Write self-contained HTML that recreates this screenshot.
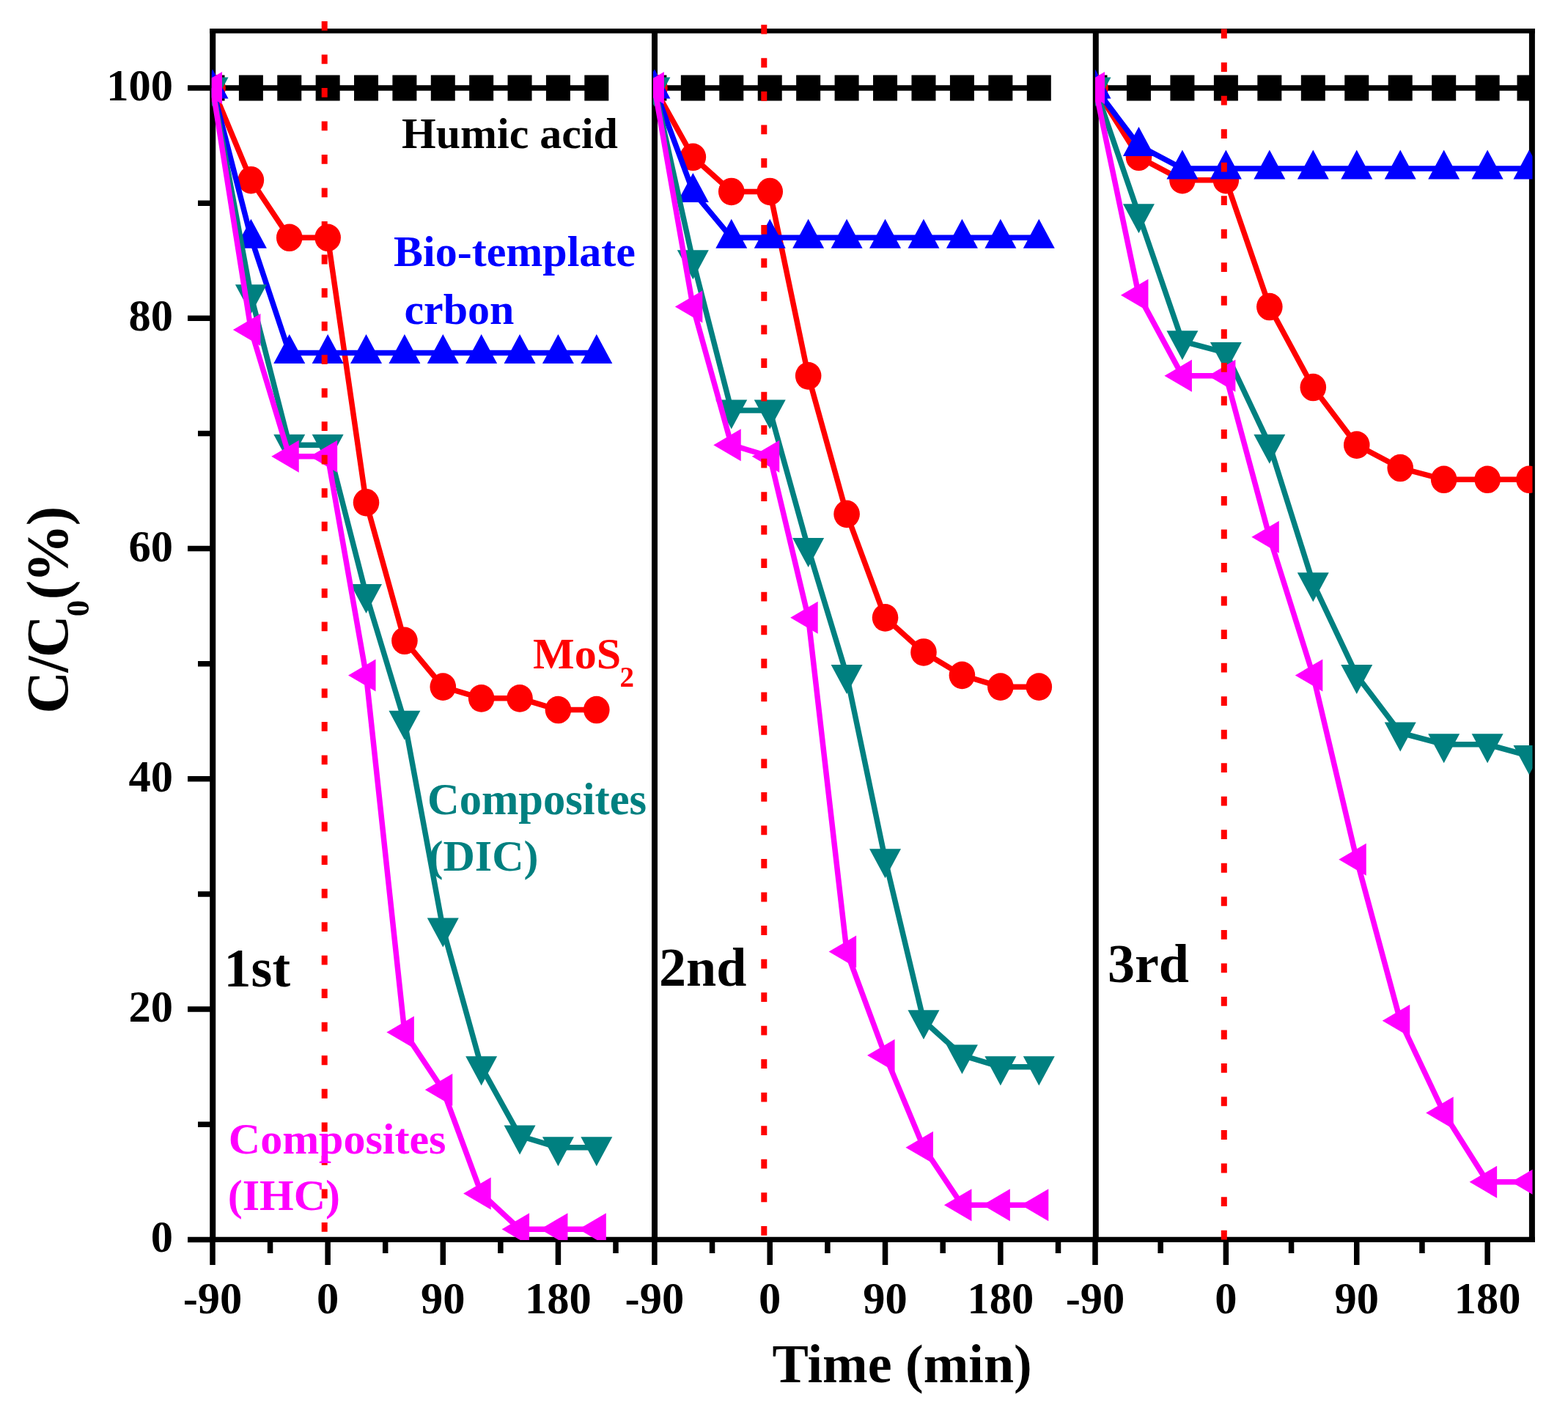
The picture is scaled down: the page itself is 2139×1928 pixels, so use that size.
<!DOCTYPE html>
<html><head><meta charset="utf-8"><title>C/C0 vs Time</title>
<style>
html,body{margin:0;padding:0;background:#fff;}
svg{display:block;}
text{font-family:"Liberation Serif","Times New Roman",serif;font-weight:bold;}
</style></head><body>
<svg width="2139" height="1928" viewBox="0 0 2139 1928">
<rect width="2139" height="1928" fill="#fff"/>
<defs>
<clipPath id="c0"><rect x="288.8" y="42.3" width="604.2" height="1649.7"/></clipPath>
<clipPath id="c1"><rect x="891" y="42.3" width="603.8" height="1649.7"/></clipPath>
<clipPath id="c2"><rect x="1494" y="42.3" width="596.5" height="1649.7"/></clipPath>
</defs>
<path d="M286,42.3H2094" stroke="#000" stroke-width="6.5" fill="none"/>
<path d="M286,1691.4H2094" stroke="#000" stroke-width="7.3" fill="none"/>
<path d="M290.2,39V1695 M893,39V1695 M1494.8,39V1695 M2089.9,39V1695" stroke="#000" stroke-width="8" fill="none"/>
<path d="M256,1691.4H290 M270,1534.26H290 M256,1377.12H290 M270,1219.98H290 M256,1062.84H290 M270,905.7H290 M256,748.56H290 M270,591.42H290 M256,434.28H290 M270,277.14H290 M256,120H290 M290,1691.4V1726 M368.57,1691.4V1710 M447.14,1691.4V1726 M525.71,1691.4V1710 M604.28,1691.4V1726 M682.85,1691.4V1710 M761.42,1691.4V1726 M839.99,1691.4V1710 M892.9,1691.4V1726 M971.56,1691.4V1710 M1050.22,1691.4V1726 M1128.88,1691.4V1710 M1207.54,1691.4V1726 M1286.2,1691.4V1710 M1364.86,1691.4V1726 M1443.52,1691.4V1710 M1494,1691.4V1726 M1583.19,1691.4V1710 M1672.38,1691.4V1726 M1761.57,1691.4V1710 M1850.76,1691.4V1726 M1939.95,1691.4V1710 M2029.14,1691.4V1726" stroke="#000" stroke-width="7.5" fill="none"/>
<g clip-path="url(#c0)">
<polyline fill="none" stroke="#000000" stroke-width="7.5" stroke-linejoin="miter" points="290,120 342.38,120 394.76,120 447.14,120 499.52,120 551.9,120 604.28,120 656.66,120 709.04,120 761.42,120 813.8,120"/>
<rect x="273.5" y="102.5" width="33" height="35" fill="#000000"/>
<rect x="325.88" y="102.5" width="33" height="35" fill="#000000"/>
<rect x="378.26" y="102.5" width="33" height="35" fill="#000000"/>
<rect x="430.64" y="102.5" width="33" height="35" fill="#000000"/>
<rect x="483.02" y="102.5" width="33" height="35" fill="#000000"/>
<rect x="535.4" y="102.5" width="33" height="35" fill="#000000"/>
<rect x="587.78" y="102.5" width="33" height="35" fill="#000000"/>
<rect x="640.16" y="102.5" width="33" height="35" fill="#000000"/>
<rect x="692.54" y="102.5" width="33" height="35" fill="#000000"/>
<rect x="744.92" y="102.5" width="33" height="35" fill="#000000"/>
<rect x="797.3" y="102.5" width="33" height="35" fill="#000000"/>
<polyline fill="none" stroke="#ff0000" stroke-width="7.5" stroke-linejoin="miter" points="290,120 342.38,245.71 394.76,324.28 447.14,324.28 499.52,685.7 551.9,874.27 604.28,937.13 656.66,952.84 709.04,952.84 761.42,968.56 813.8,968.56"/>
<ellipse cx="290" cy="120" rx="17.8" ry="18.8" fill="#ff0000"/>
<ellipse cx="342.38" cy="245.71" rx="17.8" ry="18.8" fill="#ff0000"/>
<ellipse cx="394.76" cy="324.28" rx="17.8" ry="18.8" fill="#ff0000"/>
<ellipse cx="447.14" cy="324.28" rx="17.8" ry="18.8" fill="#ff0000"/>
<ellipse cx="499.52" cy="685.7" rx="17.8" ry="18.8" fill="#ff0000"/>
<ellipse cx="551.9" cy="874.27" rx="17.8" ry="18.8" fill="#ff0000"/>
<ellipse cx="604.28" cy="937.13" rx="17.8" ry="18.8" fill="#ff0000"/>
<ellipse cx="656.66" cy="952.84" rx="17.8" ry="18.8" fill="#ff0000"/>
<ellipse cx="709.04" cy="952.84" rx="17.8" ry="18.8" fill="#ff0000"/>
<ellipse cx="761.42" cy="968.56" rx="17.8" ry="18.8" fill="#ff0000"/>
<ellipse cx="813.8" cy="968.56" rx="17.8" ry="18.8" fill="#ff0000"/>
<polyline fill="none" stroke="#0000ff" stroke-width="7.5" stroke-linejoin="miter" points="290,120 342.38,324.28 394.76,481.42 447.14,481.42 499.52,481.42 551.9,481.42 604.28,481.42 656.66,481.42 709.04,481.42 761.42,481.42 813.8,481.42"/>
<polygon points="290,94.5 311.5,134.5 268.5,134.5" fill="#0000ff"/>
<polygon points="342.38,298.78 363.88,338.78 320.88,338.78" fill="#0000ff"/>
<polygon points="394.76,455.92 416.26,495.92 373.26,495.92" fill="#0000ff"/>
<polygon points="447.14,455.92 468.64,495.92 425.64,495.92" fill="#0000ff"/>
<polygon points="499.52,455.92 521.02,495.92 478.02,495.92" fill="#0000ff"/>
<polygon points="551.9,455.92 573.4,495.92 530.4,495.92" fill="#0000ff"/>
<polygon points="604.28,455.92 625.78,495.92 582.78,495.92" fill="#0000ff"/>
<polygon points="656.66,455.92 678.16,495.92 635.16,495.92" fill="#0000ff"/>
<polygon points="709.04,455.92 730.54,495.92 687.54,495.92" fill="#0000ff"/>
<polygon points="761.42,455.92 782.92,495.92 739.92,495.92" fill="#0000ff"/>
<polygon points="813.8,455.92 835.3,495.92 792.3,495.92" fill="#0000ff"/>
<polyline fill="none" stroke="#008080" stroke-width="7.5" stroke-linejoin="miter" points="290,120 342.38,402.85 394.76,607.13 447.14,607.13 499.52,811.42 551.9,984.27 604.28,1267.12 656.66,1455.69 709.04,1549.97 761.42,1565.69 813.8,1565.69"/>
<polygon points="290,145.5 311.5,105.5 268.5,105.5" fill="#008080"/>
<polygon points="342.38,428.35 363.88,388.35 320.88,388.35" fill="#008080"/>
<polygon points="394.76,632.63 416.26,592.63 373.26,592.63" fill="#008080"/>
<polygon points="447.14,632.63 468.64,592.63 425.64,592.63" fill="#008080"/>
<polygon points="499.52,836.92 521.02,796.92 478.02,796.92" fill="#008080"/>
<polygon points="551.9,1009.77 573.4,969.77 530.4,969.77" fill="#008080"/>
<polygon points="604.28,1292.62 625.78,1252.62 582.78,1252.62" fill="#008080"/>
<polygon points="656.66,1481.19 678.16,1441.19 635.16,1441.19" fill="#008080"/>
<polygon points="709.04,1575.47 730.54,1535.47 687.54,1535.47" fill="#008080"/>
<polygon points="761.42,1591.19 782.92,1551.19 739.92,1551.19" fill="#008080"/>
<polygon points="813.8,1591.19 835.3,1551.19 792.3,1551.19" fill="#008080"/>
<polyline fill="none" stroke="#ff00ff" stroke-width="7.5" stroke-linejoin="miter" points="290,120 342.38,449.99 394.76,622.85 447.14,622.85 499.52,921.41 551.9,1408.55 604.28,1487.12 656.66,1628.54 709.04,1677.26 761.42,1677.26 813.8,1677.26"/>
<polygon points="265.5,120 303,98 303,142" fill="#ff00ff"/>
<polygon points="317.88,449.99 355.38,427.99 355.38,471.99" fill="#ff00ff"/>
<polygon points="370.26,622.85 407.76,600.85 407.76,644.85" fill="#ff00ff"/>
<polygon points="422.64,622.85 460.14,600.85 460.14,644.85" fill="#ff00ff"/>
<polygon points="475.02,921.41 512.52,899.41 512.52,943.41" fill="#ff00ff"/>
<polygon points="527.4,1408.55 564.9,1386.55 564.9,1430.55" fill="#ff00ff"/>
<polygon points="579.78,1487.12 617.28,1465.12 617.28,1509.12" fill="#ff00ff"/>
<polygon points="632.16,1628.54 669.66,1606.54 669.66,1650.54" fill="#ff00ff"/>
<polygon points="684.54,1677.26 722.04,1655.26 722.04,1699.26" fill="#ff00ff"/>
<polygon points="736.92,1677.26 774.42,1655.26 774.42,1699.26" fill="#ff00ff"/>
<polygon points="789.3,1677.26 826.8,1655.26 826.8,1699.26" fill="#ff00ff"/>
</g>
<g clip-path="url(#c1)">
<polyline fill="none" stroke="#000000" stroke-width="7.5" stroke-linejoin="miter" points="892.9,120 945.34,120 997.78,120 1050.22,120 1102.66,120 1155.1,120 1207.54,120 1259.98,120 1312.42,120 1364.86,120 1417.3,120"/>
<rect x="876.4" y="102.5" width="33" height="35" fill="#000000"/>
<rect x="928.84" y="102.5" width="33" height="35" fill="#000000"/>
<rect x="981.28" y="102.5" width="33" height="35" fill="#000000"/>
<rect x="1033.72" y="102.5" width="33" height="35" fill="#000000"/>
<rect x="1086.16" y="102.5" width="33" height="35" fill="#000000"/>
<rect x="1138.6" y="102.5" width="33" height="35" fill="#000000"/>
<rect x="1191.04" y="102.5" width="33" height="35" fill="#000000"/>
<rect x="1243.48" y="102.5" width="33" height="35" fill="#000000"/>
<rect x="1295.92" y="102.5" width="33" height="35" fill="#000000"/>
<rect x="1348.36" y="102.5" width="33" height="35" fill="#000000"/>
<rect x="1400.8" y="102.5" width="33" height="35" fill="#000000"/>
<polyline fill="none" stroke="#ff0000" stroke-width="7.5" stroke-linejoin="miter" points="892.9,120 945.34,214.28 997.78,261.43 1050.22,261.43 1102.66,512.85 1155.1,701.42 1207.54,842.84 1259.98,889.99 1312.42,921.41 1364.86,937.13 1417.3,937.13"/>
<ellipse cx="892.9" cy="120" rx="17.8" ry="18.8" fill="#ff0000"/>
<ellipse cx="945.34" cy="214.28" rx="17.8" ry="18.8" fill="#ff0000"/>
<ellipse cx="997.78" cy="261.43" rx="17.8" ry="18.8" fill="#ff0000"/>
<ellipse cx="1050.22" cy="261.43" rx="17.8" ry="18.8" fill="#ff0000"/>
<ellipse cx="1102.66" cy="512.85" rx="17.8" ry="18.8" fill="#ff0000"/>
<ellipse cx="1155.1" cy="701.42" rx="17.8" ry="18.8" fill="#ff0000"/>
<ellipse cx="1207.54" cy="842.84" rx="17.8" ry="18.8" fill="#ff0000"/>
<ellipse cx="1259.98" cy="889.99" rx="17.8" ry="18.8" fill="#ff0000"/>
<ellipse cx="1312.42" cy="921.41" rx="17.8" ry="18.8" fill="#ff0000"/>
<ellipse cx="1364.86" cy="937.13" rx="17.8" ry="18.8" fill="#ff0000"/>
<ellipse cx="1417.3" cy="937.13" rx="17.8" ry="18.8" fill="#ff0000"/>
<polyline fill="none" stroke="#0000ff" stroke-width="7.5" stroke-linejoin="miter" points="892.9,120 945.34,261.43 997.78,324.28 1050.22,324.28 1102.66,324.28 1155.1,324.28 1207.54,324.28 1259.98,324.28 1312.42,324.28 1364.86,324.28 1417.3,324.28"/>
<polygon points="892.9,94.5 914.4,134.5 871.4,134.5" fill="#0000ff"/>
<polygon points="945.34,235.93 966.84,275.93 923.84,275.93" fill="#0000ff"/>
<polygon points="997.78,298.78 1019.28,338.78 976.28,338.78" fill="#0000ff"/>
<polygon points="1050.22,298.78 1071.72,338.78 1028.72,338.78" fill="#0000ff"/>
<polygon points="1102.66,298.78 1124.16,338.78 1081.16,338.78" fill="#0000ff"/>
<polygon points="1155.1,298.78 1176.6,338.78 1133.6,338.78" fill="#0000ff"/>
<polygon points="1207.54,298.78 1229.04,338.78 1186.04,338.78" fill="#0000ff"/>
<polygon points="1259.98,298.78 1281.48,338.78 1238.48,338.78" fill="#0000ff"/>
<polygon points="1312.42,298.78 1333.92,338.78 1290.92,338.78" fill="#0000ff"/>
<polygon points="1364.86,298.78 1386.36,338.78 1343.36,338.78" fill="#0000ff"/>
<polygon points="1417.3,298.78 1438.8,338.78 1395.8,338.78" fill="#0000ff"/>
<polyline fill="none" stroke="#008080" stroke-width="7.5" stroke-linejoin="miter" points="892.9,120 945.34,355.71 997.78,559.99 1050.22,559.99 1102.66,748.56 1155.1,921.41 1207.54,1172.84 1259.98,1392.83 1312.42,1439.98 1364.86,1455.69 1417.3,1455.69"/>
<polygon points="892.9,145.5 914.4,105.5 871.4,105.5" fill="#008080"/>
<polygon points="945.34,381.21 966.84,341.21 923.84,341.21" fill="#008080"/>
<polygon points="997.78,585.49 1019.28,545.49 976.28,545.49" fill="#008080"/>
<polygon points="1050.22,585.49 1071.72,545.49 1028.72,545.49" fill="#008080"/>
<polygon points="1102.66,774.06 1124.16,734.06 1081.16,734.06" fill="#008080"/>
<polygon points="1155.1,946.91 1176.6,906.91 1133.6,906.91" fill="#008080"/>
<polygon points="1207.54,1198.34 1229.04,1158.34 1186.04,1158.34" fill="#008080"/>
<polygon points="1259.98,1418.33 1281.48,1378.33 1238.48,1378.33" fill="#008080"/>
<polygon points="1312.42,1465.48 1333.92,1425.48 1290.92,1425.48" fill="#008080"/>
<polygon points="1364.86,1481.19 1386.36,1441.19 1343.36,1441.19" fill="#008080"/>
<polygon points="1417.3,1481.19 1438.8,1441.19 1395.8,1441.19" fill="#008080"/>
<polyline fill="none" stroke="#ff00ff" stroke-width="7.5" stroke-linejoin="miter" points="892.9,120 945.34,418.57 997.78,607.13 1050.22,622.85 1102.66,842.84 1155.1,1298.55 1207.54,1439.98 1259.98,1565.69 1312.42,1644.26 1364.86,1644.26 1417.3,1644.26"/>
<polygon points="868.4,120 905.9,98 905.9,142" fill="#ff00ff"/>
<polygon points="920.84,418.57 958.34,396.57 958.34,440.57" fill="#ff00ff"/>
<polygon points="973.28,607.13 1010.78,585.13 1010.78,629.13" fill="#ff00ff"/>
<polygon points="1025.72,622.85 1063.22,600.85 1063.22,644.85" fill="#ff00ff"/>
<polygon points="1078.16,842.84 1115.66,820.84 1115.66,864.84" fill="#ff00ff"/>
<polygon points="1130.6,1298.55 1168.1,1276.55 1168.1,1320.55" fill="#ff00ff"/>
<polygon points="1183.04,1439.98 1220.54,1417.98 1220.54,1461.98" fill="#ff00ff"/>
<polygon points="1235.48,1565.69 1272.98,1543.69 1272.98,1587.69" fill="#ff00ff"/>
<polygon points="1287.92,1644.26 1325.42,1622.26 1325.42,1666.26" fill="#ff00ff"/>
<polygon points="1340.36,1644.26 1377.86,1622.26 1377.86,1666.26" fill="#ff00ff"/>
<polygon points="1392.8,1644.26 1430.3,1622.26 1430.3,1666.26" fill="#ff00ff"/>
</g>
<g clip-path="url(#c2)">
<polyline fill="none" stroke="#000000" stroke-width="7.5" stroke-linejoin="miter" points="1494,120 1553.46,120 1612.92,120 1672.38,120 1731.84,120 1791.3,120 1850.76,120 1910.22,120 1969.68,120 2029.14,120 2086.02,120"/>
<rect x="1477.5" y="102.5" width="33" height="35" fill="#000000"/>
<rect x="1536.96" y="102.5" width="33" height="35" fill="#000000"/>
<rect x="1596.42" y="102.5" width="33" height="35" fill="#000000"/>
<rect x="1655.88" y="102.5" width="33" height="35" fill="#000000"/>
<rect x="1715.34" y="102.5" width="33" height="35" fill="#000000"/>
<rect x="1774.8" y="102.5" width="33" height="35" fill="#000000"/>
<rect x="1834.26" y="102.5" width="33" height="35" fill="#000000"/>
<rect x="1893.72" y="102.5" width="33" height="35" fill="#000000"/>
<rect x="1953.18" y="102.5" width="33" height="35" fill="#000000"/>
<rect x="2012.64" y="102.5" width="33" height="35" fill="#000000"/>
<rect x="2069.52" y="102.5" width="33" height="35" fill="#000000"/>
<polyline fill="none" stroke="#ff0000" stroke-width="7.5" stroke-linejoin="miter" points="1494,120 1553.46,214.28 1612.92,245.71 1672.38,245.71 1731.84,418.57 1791.3,528.56 1850.76,607.13 1910.22,638.56 1969.68,654.28 2029.14,654.28 2086.02,654.28"/>
<ellipse cx="1494" cy="120" rx="17.8" ry="18.8" fill="#ff0000"/>
<ellipse cx="1553.46" cy="214.28" rx="17.8" ry="18.8" fill="#ff0000"/>
<ellipse cx="1612.92" cy="245.71" rx="17.8" ry="18.8" fill="#ff0000"/>
<ellipse cx="1672.38" cy="245.71" rx="17.8" ry="18.8" fill="#ff0000"/>
<ellipse cx="1731.84" cy="418.57" rx="17.8" ry="18.8" fill="#ff0000"/>
<ellipse cx="1791.3" cy="528.56" rx="17.8" ry="18.8" fill="#ff0000"/>
<ellipse cx="1850.76" cy="607.13" rx="17.8" ry="18.8" fill="#ff0000"/>
<ellipse cx="1910.22" cy="638.56" rx="17.8" ry="18.8" fill="#ff0000"/>
<ellipse cx="1969.68" cy="654.28" rx="17.8" ry="18.8" fill="#ff0000"/>
<ellipse cx="2029.14" cy="654.28" rx="17.8" ry="18.8" fill="#ff0000"/>
<ellipse cx="2086.02" cy="654.28" rx="17.8" ry="18.8" fill="#ff0000"/>
<polyline fill="none" stroke="#0000ff" stroke-width="7.5" stroke-linejoin="miter" points="1494,120 1553.46,198.57 1612.92,230 1672.38,230 1731.84,230 1791.3,230 1850.76,230 1910.22,230 1969.68,230 2029.14,230 2086.02,230"/>
<polygon points="1494,94.5 1515.5,134.5 1472.5,134.5" fill="#0000ff"/>
<polygon points="1553.46,173.07 1574.96,213.07 1531.96,213.07" fill="#0000ff"/>
<polygon points="1612.92,204.5 1634.42,244.5 1591.42,244.5" fill="#0000ff"/>
<polygon points="1672.38,204.5 1693.88,244.5 1650.88,244.5" fill="#0000ff"/>
<polygon points="1731.84,204.5 1753.34,244.5 1710.34,244.5" fill="#0000ff"/>
<polygon points="1791.3,204.5 1812.8,244.5 1769.8,244.5" fill="#0000ff"/>
<polygon points="1850.76,204.5 1872.26,244.5 1829.26,244.5" fill="#0000ff"/>
<polygon points="1910.22,204.5 1931.72,244.5 1888.72,244.5" fill="#0000ff"/>
<polygon points="1969.68,204.5 1991.18,244.5 1948.18,244.5" fill="#0000ff"/>
<polygon points="2029.14,204.5 2050.64,244.5 2007.64,244.5" fill="#0000ff"/>
<polygon points="2086.02,204.5 2107.52,244.5 2064.52,244.5" fill="#0000ff"/>
<polyline fill="none" stroke="#008080" stroke-width="7.5" stroke-linejoin="miter" points="1494,120 1553.46,292.85 1612.92,465.71 1672.38,481.42 1731.84,607.13 1791.3,795.7 1850.76,921.41 1910.22,999.98 1969.68,1015.7 2029.14,1015.7 2086.02,1031.41"/>
<polygon points="1494,145.5 1515.5,105.5 1472.5,105.5" fill="#008080"/>
<polygon points="1553.46,318.35 1574.96,278.35 1531.96,278.35" fill="#008080"/>
<polygon points="1612.92,491.21 1634.42,451.21 1591.42,451.21" fill="#008080"/>
<polygon points="1672.38,506.92 1693.88,466.92 1650.88,466.92" fill="#008080"/>
<polygon points="1731.84,632.63 1753.34,592.63 1710.34,592.63" fill="#008080"/>
<polygon points="1791.3,821.2 1812.8,781.2 1769.8,781.2" fill="#008080"/>
<polygon points="1850.76,946.91 1872.26,906.91 1829.26,906.91" fill="#008080"/>
<polygon points="1910.22,1025.48 1931.72,985.48 1888.72,985.48" fill="#008080"/>
<polygon points="1969.68,1041.2 1991.18,1001.2 1948.18,1001.2" fill="#008080"/>
<polygon points="2029.14,1041.2 2050.64,1001.2 2007.64,1001.2" fill="#008080"/>
<polygon points="2086.02,1056.91 2107.52,1016.91 2064.52,1016.91" fill="#008080"/>
<polyline fill="none" stroke="#ff00ff" stroke-width="7.5" stroke-linejoin="miter" points="1494,120 1553.46,402.85 1612.92,512.85 1672.38,512.85 1731.84,732.85 1791.3,921.41 1850.76,1172.84 1910.22,1392.83 1969.68,1518.55 2029.14,1612.83 2086.02,1612.83"/>
<polygon points="1469.5,120 1507,98 1507,142" fill="#ff00ff"/>
<polygon points="1528.96,402.85 1566.46,380.85 1566.46,424.85" fill="#ff00ff"/>
<polygon points="1588.42,512.85 1625.92,490.85 1625.92,534.85" fill="#ff00ff"/>
<polygon points="1647.88,512.85 1685.38,490.85 1685.38,534.85" fill="#ff00ff"/>
<polygon points="1707.34,732.85 1744.84,710.85 1744.84,754.85" fill="#ff00ff"/>
<polygon points="1766.8,921.41 1804.3,899.41 1804.3,943.41" fill="#ff00ff"/>
<polygon points="1826.26,1172.84 1863.76,1150.84 1863.76,1194.84" fill="#ff00ff"/>
<polygon points="1885.72,1392.83 1923.22,1370.83 1923.22,1414.83" fill="#ff00ff"/>
<polygon points="1945.18,1518.55 1982.68,1496.55 1982.68,1540.55" fill="#ff00ff"/>
<polygon points="2004.64,1612.83 2042.14,1590.83 2042.14,1634.83" fill="#ff00ff"/>
<polygon points="2061.52,1612.83 2099.02,1590.83 2099.02,1634.83" fill="#ff00ff"/>
</g>
<line x1="442.7" y1="28.9" x2="442.7" y2="1691.4" stroke="#ff0000" stroke-width="8" stroke-dasharray="12.8 32.73"/>
<line x1="1042.3" y1="33.8" x2="1042.3" y2="1691.4" stroke="#ff0000" stroke-width="8" stroke-dasharray="12.8 32.73"/>
<line x1="1669.8" y1="39.6" x2="1669.8" y2="1691.4" stroke="#ff0000" stroke-width="8" stroke-dasharray="12.8 32.73"/>
<text x="236" y="1708.4" font-size="60.5" text-anchor="end">0</text>
<text x="236" y="1394.12" font-size="60.5" text-anchor="end">20</text>
<text x="236" y="1079.84" font-size="60.5" text-anchor="end">40</text>
<text x="236" y="765.56" font-size="60.5" text-anchor="end">60</text>
<text x="236" y="451.28" font-size="60.5" text-anchor="end">80</text>
<text x="236" y="137" font-size="60.5" text-anchor="end">100</text>
<text x="290" y="1792" font-size="60.5" text-anchor="middle">-90</text>
<text x="447.14" y="1792" font-size="60.5" text-anchor="middle">0</text>
<text x="604.28" y="1792" font-size="60.5" text-anchor="middle">90</text>
<text x="761.42" y="1792" font-size="60.5" text-anchor="middle">180</text>
<text x="892.9" y="1792" font-size="60.5" text-anchor="middle">-90</text>
<text x="1050.22" y="1792" font-size="60.5" text-anchor="middle">0</text>
<text x="1207.54" y="1792" font-size="60.5" text-anchor="middle">90</text>
<text x="1364.86" y="1792" font-size="60.5" text-anchor="middle">180</text>
<text x="1494" y="1792" font-size="60.5" text-anchor="middle">-90</text>
<text x="1672.38" y="1792" font-size="60.5" text-anchor="middle">0</text>
<text x="1850.76" y="1792" font-size="60.5" text-anchor="middle">90</text>
<text x="2029.14" y="1792" font-size="60.5" text-anchor="middle">180</text>
<text x="1230.6" y="1886" font-size="74" text-anchor="middle">Time (min)</text>
<text transform="translate(92,832.5) rotate(-90)" font-size="80"><tspan x="-141.3" y="0">C</tspan><tspan x="-85.1" y="0">/</tspan><tspan x="-64.8" y="0">C</tspan><tspan x="-8.75" y="28.5" font-size="45">0</tspan><tspan x="14.2" y="0">(</tspan><tspan x="37.6" y="0">%</tspan><tspan x="115.2" y="0">)</tspan></text>
<text x="548" y="202.4" font-size="60" fill="#000">Humic acid</text>
<text x="537" y="363.3" font-size="60" fill="#0000ff">Bio-template</text>
<text x="551.4" y="441.5" font-size="60" fill="#0000ff">crbon</text>
<text x="727" y="911.8" font-size="60" fill="#ff0000">MoS<tspan font-size="39" dy="25" dx="-1.5">2</tspan></text>
<text x="583" y="1111" font-size="60.5" fill="#008080">Composites</text>
<text x="584.5" y="1187.9" font-size="60" fill="#008080">(DIC)</text>
<text x="311.8" y="1573.9" font-size="60" fill="#ff00ff">Composites</text>
<text x="310.7" y="1650.8" font-size="60" fill="#ff00ff">(IHC)</text>
<text x="305.6" y="1345.7" font-size="74">1st</text>
<text x="899" y="1345.4" font-size="74">2nd</text>
<text x="1511" y="1339.8" font-size="74">3rd</text>
</svg></body></html>
